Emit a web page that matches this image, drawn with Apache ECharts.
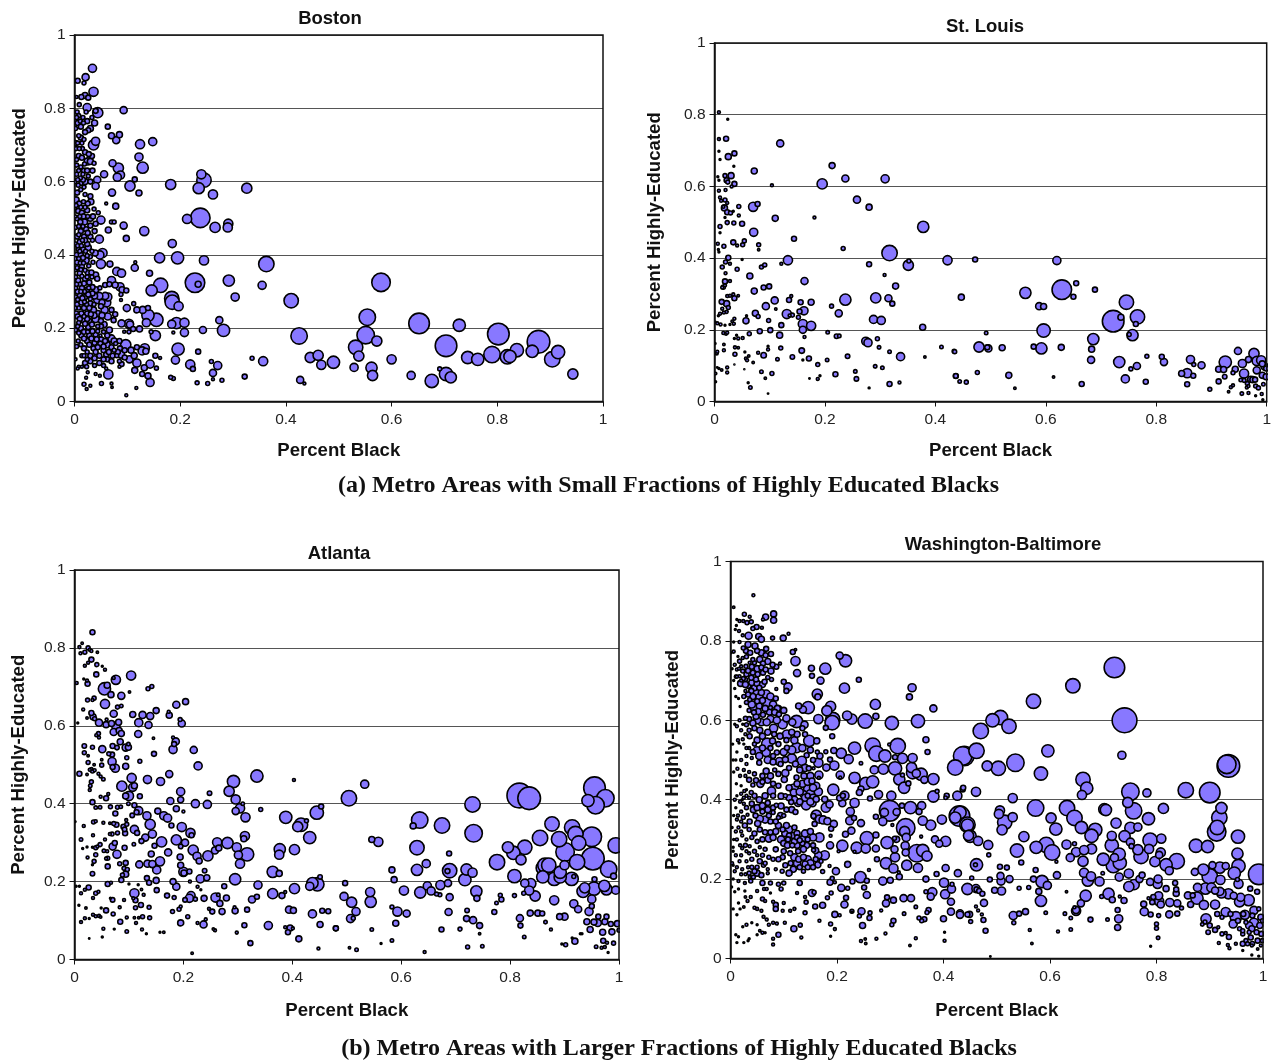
<!DOCTYPE html>
<html><head><meta charset="utf-8">
<script src="https://cdn.jsdelivr.net/npm/echarts@6/dist/echarts.min.js"></script>
<style>html,body{margin:0;padding:0;background:#fff}#c{width:1274px;height:1061px}</style>
</head><body><div id="c"></div>
<script>
// each point: [percent black, percent highly educated, bubble weight]
const bostonPoints = [
[.034,.909,8],[.021,.885,7],[.006,.875,5],[.018,.869,4],[.036,.845,9],[.02,.835,6],[.013,.831,5],[.026,.829,5],[.004,.831,3],[.024,.802,8],[.009,.81,4],[.044,.788,10],[.04,.793,5],[.093,.795,7],[.022,.79,4],[.005,.79,4],[.008,.78,4],[.016,.775,4],[.006,.76,5],[.012,.75,5],[.03,.745,6],[.038,.76,6],[.026,.74,5],[.02,.735,5],[.008,.725,4],[.012,.72,5],[.002,.705,5],[.014,.705,4],[.04,.71,8],[.036,.7,10],[.015,.69,4],[.003,.69,4],[.063,.75,5],[.07,.725,6],[.085,.728,6],[.079,.713,7],[.124,.702,9],[.148,.709,8],[.122,.667,8],[.129,.638,11],[.033,.67,5],[.008,.67,5],[.014,.665,5],[.03,.655,6],[.025,.655,7],[.037,.65,4],[.072,.65,7],[.083,.637,10],[.087,.618,8],[.081,.612,8],[.056,.62,7],[.018,.63,5],[.008,.63,4],[.004,.645,4],[.026,.615,4],[.03,.6,5],[.043,.605,7],[.04,.588,7],[.02,.6,6],[.012,.595,4],[.105,.588,10],[.114,.606,5],[.122,.569,6],[.071,.57,7],[.012,.578,4],[.005,.57,5],[.02,.565,4],[.03,.56,5],[.031,.545,6],[.003,.55,6],[.009,.54,5],[.02,.53,4],[.037,.525,4],[.06,.54,3],[.078,.533,6],[.007,.52,5],[.014,.515,5],[.024,.522,5],[.045,.515,4],[.05,.495,8],[.07,.49,4],[.075,.49,4],[.093,.48,7],[.03,.5,6],[.019,.49,6],[.04,.485,5],[.005,.5,5],[.011,.49,5],[.002,.475,4],[.03,.48,5],[.022,.47,5],[.038,.465,5],[.064,.468,6],[.098,.445,6],[.012,.465,5],[.005,.45,5],[.018,.45,5],[.03,.45,5],[.047,.443,8],[.01,.435,5],[.024,.43,5],[.002,.43,4],[.016,.415,5],[.026,.42,6],[.033,.41,4],[.039,.405,6],[.053,.405,9],[.048,.4,8],[.007,.415,4],[.004,.4,5],[.012,.4,5],[.022,.385,6],[.03,.395,4],[.05,.375,9],[.067,.375,6],[.115,.38,3],[.114,.365,7],[.142,.35,6],[.08,.355,8],[.089,.35,8],[.005,.38,5],[.014,.37,5],[.002,.36,4],[.02,.358,4],[.01,.35,5],[.04,.345,6],[.043,.335,5],[.07,.33,8],[.02,.335,5],[.007,.33,5],[.028,.325,5],[.058,.318,5],[.066,.32,5],[.077,.318,6],[.086,.313,8],[.048,.31,4],[.04,.305,6],[.014,.31,5],[.002,.31,4],[.024,.305,5],[.09,.305,6],[.098,.303,5],[.088,.292,4],[.01,.29,5],[.02,.285,5],[.03,.28,4],[.058,.288,7],[.063,.285,8],[.044,.278,8],[.06,.27,9],[.088,.277,3],[.037,.265,4],[.05,.26,5],[.023,.265,4],[.005,.265,5],[.013,.27,5],[.112,.267,4],[.099,.255,7],[.118,.25,6],[.129,.25,7],[.139,.255,5],[.057,.25,7],[.07,.25,5],[.077,.238,5],[.044,.24,6],[.024,.24,5],[.013,.24,5],[.003,.24,5],[.063,.232,7],[.074,.222,5],[.04,.225,7],[.05,.22,5],[.028,.22,5],[.016,.222,5],[.008,.215,4],[.089,.213,7],[.103,.212,9],[.105,.21,7],[.044,.205,4],[.026,.203,5],[.012,.2,5],[.002,.195,4],[.066,.195,6],[.103,.19,4],[.094,.19,3],[.111,.198,5],[.123,.198,6],[.145,.19,4],[.187,.188,3],[.04,.183,5],[.049,.18,3],[.028,.18,5],[.013,.18,5],[.062,.18,5],[.07,.172,7],[.007,.165,4],[.024,.165,5],[.038,.16,5],[.049,.158,5],[.062,.155,6],[.078,.158,4],[.097,.155,10],[.118,.148,5],[.133,.145,9],[.128,.138,8],[.135,.137,6],[.107,.14,6],[.075,.14,4],[.055,.14,5],[.036,.145,5],[.018,.145,5],[.004,.15,4],[.088,.128,7],[.113,.125,6],[.104,.115,7],[.118,.105,8],[.072,.125,5],[.06,.128,5],[.047,.125,5],[.03,.125,5],[.014,.125,4],[.002,.115,3],[.085,.11,4],[.08,.125,4],[.062,.115,5],[.047,.105,5],[.03,.11,5],[.02,.105,5],[.014,.095,3],[.008,.095,3],[.089,.102,5],[.085,.095,3],[.055,.098,4],[.038,.098,4],[.023,.095,4],
[.24,.62,9],[.245,.604,14],[.235,.582,11],[.262,.565,9],[.326,.582,10],[.182,.592,10],[.238,.501,19],[.213,.498,9],[.266,.475,10],[.291,.485,9],[.29,.475,9],[.132,.465,9],[.185,.431,8],[.195,.392,12],[.161,.392,10],[.245,.385,9],[.363,.375,15],[.228,.324,19],[.234,.32,6],[.292,.33,11],[.355,.317,8],[.304,.285,8],[.41,.275,14],[.425,.179,16],[.163,.317,14],[.146,.303,11],[.184,.281,14],[.185,.271,14],[.197,.26,9],[.139,.235,12],[.155,.223,13],[.136,.215,8],[.208,.215,9],[.193,.214,11],[.184,.211,8],[.208,.188,8],[.274,.222,7],[.282,.194,12],[.243,.195,7],[.153,.18,10],[.196,.143,12],[.191,.113,8],[.219,.101,9],[.224,.089,5],[.234,.136,5],[.271,.098,8],[.259,.109,4],[.262,.078,7],[.336,.118,4],[.357,.11,9],[.322,.068,5],[.427,.059,7],[.435,.049,3],[.279,.058,4],[.252,.049,4],[.232,.051,4],[.262,.061,3],[.187,.063,4],[.182,.066,4],[.143,.052,8],[.139,.07,6],[.128,.075,5],[.114,.085,6],[.143,.102,8],[.132,.092,6],[.155,.091,4],[.153,.125,5],[.162,.119,3],[.117,.037,3],[.098,.017,3],[.064,.074,9],[.051,.049,4],[.07,.049,3],[.071,.039,2.5],[.023,.034,3],[.018,.047,4],[.03,.043,3],[.025,.08,3],[.022,.065,3],[.04,.075,3],[.048,.07,3],[.06,.09,3],[.006,.09,3],
[.58,.325,18],[.554,.23,16],[.551,.181,17],[.572,.165,10],[.532,.148,14],[.538,.124,10],[.6,.115,9],[.529,.093,8],[.562,.092,11],[.564,.071,10],[.637,.071,8],[.676,.056,13],[.652,.213,20],[.703,.152,21],[.691,.089,4],[.703,.075,13],[.712,.066,11],[.728,.208,12],[.744,.12,12],[.763,.115,12],[.79,.128,16],[.802,.184,21],[.819,.122,14],[.824,.123,12],[.837,.14,13],[.866,.137,12],[.878,.163,22],[.915,.135,13],[.904,.115,15],[.943,.075,10],[.49,.107,12],[.446,.12,10],[.461,.126,10],[.467,.1,9],
[.004,.62,4],[.011,.61,4],[.016,.605,5],[.001,.6,4],[.007,.59,4],[.018,.585,4],[.003,.535,4],[.012,.53,4],[.017,.545,4],[.025,.54,5],[.01,.505,4],[.017,.505,5],[.025,.505,4],[.035,.505,5],[.002,.505,3],[.008,.478,4],[.016,.478,4],[.025,.46,5],[.034,.44,4],[.008,.455,4],[.015,.44,4],[.02,.44,5],[.006,.425,4],[.013,.425,4],[.021,.41,4],[.01,.41,4],[.002,.39,4],[.008,.39,4],[.016,.392,5],[.024,.398,4],[.035,.38,4],[.011,.378,4],[.017,.378,4],[.027,.37,4],[.005,.365,4],[.012,.36,4],[.025,.352,5],[.032,.352,5],[.002,.34,4],[.014,.342,4],[.024,.34,4],[.033,.34,4],[.01,.32,4],[.018,.322,5],[.004,.32,4],[.034,.312,5],[.027,.31,4],[.019,.3,4],[.006,.3,5],[.012,.3,4],[.034,.295,5],[.026,.292,5],[.002,.285,4],[.015,.282,5],[.006,.278,4],[.038,.288,6],[.047,.288,7],[.052,.27,6],[.03,.268,5],[.019,.272,4],[.008,.255,4],[.018,.255,5],[.028,.255,5],[.036,.25,6],[.001,.255,4],[.031,.238,5],[.006,.232,5],[.018,.232,4],[.037,.235,6],[.052,.235,6],[.024,.225,5],[.01,.225,5],[.033,.21,5],[.02,.212,5],[.006,.205,4],[.05,.205,5],[.056,.21,6],[.018,.19,5],[.034,.192,5],[.008,.187,4],[.025,.19,4],[.044,.192,4],[.055,.19,4],[.018,.172,5],[.032,.172,5],[.042,.17,5],[.05,.168,6],[.058,.165,5],[.075,.165,6],[.085,.165,5],[.012,.155,4],[.028,.155,5],[.044,.148,5],[.055,.15,5],[.07,.148,5],[.086,.145,5],[.095,.14,5],[.024,.135,4],[.04,.135,5],[.065,.135,5],[.082,.135,5],[.018,.125,4],[.038,.118,5],[.055,.115,5],[.07,.11,5],[.095,.12,5],[.024,.115,4],
[.004,.775,4],[.011,.765,4],[.002,.745,4],[.017,.76,4],[.024,.765,5],[.033,.775,4],[.018,.715,4],[.006,.705,4],[.009,.69,4],[.02,.68,5],[.027,.675,5],[.004,.66,4],[.019,.648,4],[.012,.64,4],[.024,.63,5],[.034,.63,5],[.016,.62,4],[.006,.605,4]
];
const stLouisPoints = [
[.008,.807,3],[.024,.787,2],[.008,.732,3],[.021,.733,5],[.119,.72,7],[.036,.692,5],[.025,.683,6],[.008,.698,2],[.01,.675,2],[.035,.656,2],[.072,.643,6],[.213,.658,6],[.237,.622,7],[.309,.621,8],[.195,.607,10],[.104,.603,3],[.03,.63,6],[.019,.63,4],[.022,.617,5],[.024,.612,4],[.036,.607,5],[.031,.6,3],[.006,.627,2],[.008,.617,2],[.008,.588,3],[.02,.59,3],[.01,.569,3],[.019,.562,4],[.023,.554,3],[.012,.56,3],[.258,.563,7],[.28,.542,6],[.044,.544,4],[.07,.543,9],[.078,.551,5],[.016,.543,3],[.018,.54,6],[.023,.528,5],[.029,.526,4],[.034,.531,2],[.044,.519,3],[.019,.513,2],[.11,.511,6],[.181,.513,3],[.378,.487,11],[.023,.499,4],[.035,.498,4],[.05,.496,5],[.01,.488,4],[.01,.471,2],[.071,.472,8],[.144,.454,5],[.034,.444,5],[.054,.448,4],[.051,.437,4],[.041,.435,3],[.08,.437,4],[.08,.423,2.5],[.006,.44,3],[.007,.424,2],[.008,.417,2],[.017,.433,4],[.233,.427,4],[.317,.414,15],[.133,.394,9],[.121,.384,3],[.351,.38,10],[.352,.392,4],[.422,.394,9],[.28,.383,5],[.025,.401,5],[.02,.389,4],[.028,.384,3],[.014,.375,4],[.05,.396,2],[.041,.369,4],[.085,.375,4],[.091,.381,4],[.02,.358,3],[.064,.35,6],[.308,.353,3],[.163,.336,7],[.028,.336,3],[.019,.335,5],[.016,.319,4],[.019,.324,3],[.014,.318,3],[.328,.322,6],[.089,.318,5],[.099,.321,5],[.072,.308,6],[.034,.299,3],[.028,.295,3],[.043,.295,2.5],[.036,.288,5],[.023,.294,3],[.139,.294,3],[.135,.283,5],[.237,.284,11],[.292,.289,10],[.315,.288,7],[.322,.273,5],[.109,.282,7],[.093,.266,7],[.111,.258,2.5],[.175,.277,6],[.156,.277,5],[.162,.253,8],[.154,.251,5],[.212,.266,4],[.131,.244,9],[.141,.241,4],[.136,.24,3],[.152,.235,4],[.225,.246,7],[.074,.246,6],[.079,.237,4],[.057,.225,6],[.058,.239,2],[.013,.278,5],[.022,.273,6],[.025,.262,4],[.014,.259,3],[.022,.25,3],[.01,.245,3],[.017,.248,3],[.007,.239,2],[.036,.231,3],[.035,.217,3],[.032,.224,2.5],[.098,.226,4],[.121,.213,5],[.16,.216,9],[.175,.211,9],[.16,.2,7],[.163,.18,3],[.288,.229,8],[.302,.226,8],[.377,.207,6],[.205,.193,3.5],[.221,.182,4.5],[.226,.183,3.5],[.101,.199,5],[.082,.196,5],[.118,.185,6],[.063,.189,4],[.001,.222,2],[.005,.218,3],[.011,.215,3],[.019,.213,2],[.028,.215,2],[.016,.191,3],[.021,.189,3],[.023,.192,3],[.04,.185,2],[.036,.176,2],[.043,.176,3],[.051,.177,3],[.274,.168,8],[.278,.164,8],[.295,.175,4],[.298,.151,3.5],[.317,.139,3.5],[.337,.125,8],[.241,.126,4.5],[.381,.124,2.5],[.411,.152,3.5],[.434,.14,4],[.158,.142,5.5],[.12,.149,4],[.097,.154,2],[.097,.145,3],[.089,.129,5.5],[.079,.136,3],[.141,.124,4.5],[.114,.118,3.5],[.171,.12,5],[.16,.116,2],[.187,.103,4],[.204,.116,3.5],[.255,.084,3.5],[.257,.063,4.5],[.219,.076,5],[.187,.063,3],[.191,.072,2],[.291,.098,3.5],[.304,.094,3.5],[.317,.049,5],[.335,.053,3],[.28,.038,2],[.437,.071,4.5],[.104,.078,4],[.085,.083,3.5],[.092,.065,2.5],[.07,.109,2.5],[.065,.039,3.5],[.061,.052,2],[.097,.022,1.5],[.172,.064,1.5],[.001,.162,2],[.004,.134,3],[.005,.139,3],[.017,.143,3],[.017,.159,2.5],[.037,.151,3],[.043,.15,2.5],[.037,.132,4],[.055,.138,2],[.057,.12,3],[.059,.115,3],[.062,.127,2.5],[.008,.092,2],[.013,.088,2.5],[.023,.095,3],[.023,.081,3],[.005,.095,1.5],[.002,.078,2.5],[.002,.055,2],[.036,.103,1],[.054,.09,1],
[.472,.396,5],[.62,.393,8],[.629,.312,19],[.655,.33,5],[.65,.292,5],[.689,.312,5],[.563,.303,11],[.447,.291,6],[.588,.266,7],[.596,.265,6],[.596,.198,13],[.492,.191,3.5],[.746,.277,14],[.766,.236,14],[.722,.224,21],[.736,.235,6],[.763,.216,5],[.757,.185,11],[.751,.187,4],[.686,.174,11],[.683,.146,6],[.682,.116,7],[.733,.11,11],[.765,.099,7],[.754,.091,4],[.744,.063,8],[.783,.126,4],[.781,.055,5],[.665,.049,5],[.614,.068,2.5],[.628,.151,6],[.592,.148,11],[.578,.153,5],[.521,.15,6],[.496,.148,7],[.494,.151,5],[.479,.152,10],[.435,.139,4],[.476,.081,4],[.533,.073,6],[.544,.037,2.5],[.437,.071,5],[.444,.056,3.5],[.456,.054,4],[.81,.125,5],[.814,.11,7],[.862,.117,8],[.868,.103,4],[.882,.101,7],[.846,.078,6],[.856,.079,9],[.867,.072,5],[.856,.048,5],[.897,.034,4],[.913,.056,5],[.925,.11,12],[.913,.09,6],[.922,.089,6],[.924,.069,4.5],[.939,.045,3],[.935,.04,3],[.931,.027,2.5],[.939,.08,4],[.943,.09,6],[.948,.141,7],[.956,.106,8],[.959,.078,9],[.977,.134,10],[.967,.117,6],[.982,.113,9],[.99,.115,9],[.992,.105,6],[.996,.098,7],[.982,.087,7],[.992,.073,6],[.999,.069,6],[.953,.06,3.5],[.959,.059,4],[.971,.062,6],[.975,.061,6],[.979,.061,5],[.965,.05,4],[.964,.039,3],[.967,.043,3],[.98,.043,4],[.985,.038,4],[.994,.048,3.5],[.955,.022,3.5],[.967,.024,3],[.991,.021,3],[.98,.016,2],[.993,.005,2],[.999,.092,5]
];
const atlantaPoints = [
[.033,.84,5],[.014,.812,2.5],[.009,.802,3],[.025,.8,4],[.028,.795,3],[.042,.789,2.5],[.019,.789,4],[.011,.786,3],[.031,.792,3],[.031,.77,5],[.025,.762,3],[.019,.754,3],[.041,.757,4],[.051,.753,2],[.056,.744,3],[.04,.732,5],[.104,.729,9],[.076,.718,9],[.072,.723,3],[.017,.72,2],[.023,.716,3],[.024,.708,5],[.004,.71,3],[.055,.695,12],[.06,.704,6],[.135,.695,4],[.142,.701,4],[.101,.687,2.5],[.067,.68,6],[.086,.677,7],[.036,.671,4],[.024,.666,4],[.033,.666,3],[.056,.656,9],[.204,.662,6],[.187,.654,7],[.079,.648,4],[.086,.651,3.5],[.016,.642,3],[.072,.631,7],[.107,.629,6],[.125,.628,7],[.139,.625,7],[.15,.639,6],[.173,.636,3],[.174,.627,6],[.031,.633,5],[.023,.62,2.5],[.034,.623,6],[.037,.618,4],[.045,.608,7],[.059,.616,3],[.006,.607,2],[.118,.608,8],[.194,.616,4],[.197,.606,7],[.136,.602,7],[.058,.603,6],[.068,.606,6],[.076,.599,8],[.081,.609,6],[.082,.588,6],[.072,.584,7],[.086,.58,6],[.117,.579,7],[.04,.576,3],[.044,.58,4],[.045,.57,3],[.145,.568,2.5],[.181,.57,3],[.186,.56,7],[.183,.553,5],[.084,.559,6],[.099,.553,3.5],[.099,.545,6],[.094,.544,7],[.018,.548,4.5],[.033,.545,4],[.051,.54,7],[.07,.548,5],[.078,.544,4.5],[.018,.531,4],[.025,.523,2.5],[.181,.539,8],[.219,.538,7],[.146,.528,5],[.063,.528,4],[.069,.526,5],[.096,.518,4],[.12,.509,4],[.025,.506,4],[.05,.513,2.5],[.069,.508,8],[.05,.499,4],[.036,.5,2.5],[.227,.497,8],[.094,.496,6],[.07,.494,5],[.075,.491,8],[.031,.489,3],[.037,.486,3],[.028,.487,3],[.033,.484,4],[.009,.477,5],[.023,.475,2.5],[.044,.477,3],[.048,.47,3],[.053,.463,3.5],[.174,.476,7],[.105,.466,9],[.134,.462,8],[.158,.457,8],[.292,.457,12],[.335,.471,12],[.403,.461,3],[.031,.456,4],[.029,.446,3.5],[.028,.435,3],[.087,.445,10],[.11,.446,6],[.107,.442,8],[.195,.431,8],[.248,.427,4.5],[.284,.432,10],[.048,.418,3],[.062,.425,3],[.058,.414,5],[.094,.42,6],[.1,.42,9],[.12,.419,5],[.195,.41,6],[.176,.407,7],[.296,.411,9],[.033,.404,5],[.222,.4,8],[.244,.398,8],[.099,.4,3.5],[.11,.396,5],[.309,.4,3.5],[.039,.39,3.5],[.047,.391,3.5],[.066,.392,4],[.079,.391,4],[.085,.392,3.5],[.187,.387,6],[.2,.38,3],[.118,.382,8],[.114,.378,5],[.153,.381,6],[.304,.388,9],[.296,.381,7],[.342,.385,4],[.075,.375,5],[.106,.37,4.5],[.133,.369,8],[.164,.369,8],[.171,.363,8],[.314,.365,9],[.388,.365,12],[.445,.377,13],[.453,.393,5],[.426,.356,4],[.41,.341,10],[.416,.346,13],[.035,.353,4],[.039,.355,3],[.001,.354,2],[.053,.351,3],[.065,.35,2.5],[.072,.349,4],[.077,.346,5],[.095,.358,3],[.096,.347,4],[.09,.341,5],[.017,.343,3],[.178,.344,5],[.139,.347,10],[.11,.334,8],[.197,.34,9],[.092,.334,4.5],[.093,.324,5],[.065,.322,3],[.069,.322,4],[.079,.325,4],[.115,.325,5],[.034,.319,3],[.143,.322,8],[.213,.325,9],[.215,.319,5],[.313,.317,9],[.432,.313,12],[.13,.313,7],[.123,.304,5],[.012,.308,3.5],[.187,.307,10],[.16,.302,10],[.311,.31,6],[.262,.301,9],[.281,.299,11],[.109,.296,3.5],[.074,.299,5],[.203,.3,7],[.056,.308,3],[.047,.295,4],[.039,.287,4],[.042,.29,3],[.092,.287,5],[.07,.29,7],[.147,.292,5],[.195,.29,4.5],[.218,.281,10],[.258,.28,7],[.265,.286,6],[.298,.288,9],[.377,.283,11],[.404,.282,10],[.033,.288,2],[.015,.285,2],[.023,.289,2],[.172,.275,7],[.06,.278,3],[.054,.279,3.5],[.078,.27,8],[.141,.271,6],[.039,.269,4],[.225,.265,8],[.245,.266,10],[.317,.27,13],[.301,.268,8],[.376,.269,9],[.194,.263,6],[.229,.253,6],[.024,.262,3],[.061,.26,4],[.058,.259,3],[.036,.252,4],[.033,.243,2],[.157,.252,9],[.304,.246,9],[.083,.246,4],[.094,.248,5],[.119,.244,7],[.134,.246,7],[.143,.245,7],[.061,.239,5],[.195,.242,6],[.151,.23,8],[.091,.234,4],[.097,.231,4],[.239,.228,4.5],[.211,.226,5],[.2,.225,9],[.033,.22,4.5],[.094,.219,6],[.088,.217,4],[.201,.222,6],[.364,.225,11],[.376,.221,6],[.295,.206,11],[.243,.21,6],[.231,.207,8],[.086,.204,5],[.133,.209,5],[.451,.212,4.5],[.437,.196,11],[.446,.193,13],[.432,.188,8],[.15,.203,6],[.137,.197,5],[.181,.2,6],[.212,.2,3],[.061,.194,5],[.067,.197,3],[.1,.194,2],[.117,.192,2],[.187,.187,7],[.337,.191,8],[.404,.182,10],[.226,.187,3],[.232,.179,2],[.11,.17,9],[.151,.178,5],[.123,.18,2.5],[.009,.188,2],[.003,.188,2],[.026,.185,5],[.019,.179,3],[.012,.17,3],[.039,.17,4],[.044,.174,3],[.034,.158,3],[.07,.153,4.5],[.091,.153,3],[.127,.166,3],[.17,.164,5],[.183,.159,4],[.214,.164,8],[.211,.157,8],[.203,.153,4.5],[.222,.155,4],[.238,.157,6],[.264,.166,3.5],[.259,.159,9],[.279,.158,6],[.275,.188,5],[.364,.169,10],[.381,.164,6],[.387,.173,3],[.335,.161,5],[.326,.154,7],[.108,.157,3],[.112,.152,5],[.066,.157,2],[.008,.139,2],[.021,.132,2.5],[.049,.132,2],[.058,.126,5],[.122,.14,5],[.112,.133,4],[.137,.134,4],[.083,.134,3],[.267,.144,6],[.195,.136,3],[.294,.134,3],[.271,.123,6],[.253,.123,5],[.247,.13,3],[.18,.123,4],[.192,.129,4],[.295,.125,6],[.317,.128,5],[.394,.128,7],[.402,.126,6],[.437,.117,8],[.455,.125,5],[.466,.124,5],[.071,.117,4],[.208,.11,4],[.241,.103,3],[.034,.115,3],[.039,.111,3],[.045,.112,3],[.048,.109,2.5],[.084,.097,5],[.096,.108,3],[.11,.107,2.5],[.118,.107,2.5],[.125,.11,4],[.138,.107,4],[.195,.094,6],[.019,.106,3],[.027,.105,2],[.012,.096,3],[.113,.094,3],[.226,.094,3],[.237,.09,7],[.312,.088,5],[.356,.087,8],[.387,.083,3],[.396,.081,6],[.401,.08,3],[.451,.09,6],[.48,.08,5],[.392,.07,5],[.053,.079,3],[.073,.078,2],[.124,.077,3],[.132,.066,2],[.255,.078,2.5],[.258,.075,3],[.096,.072,3.5],[.157,.07,2],[.164,.07,2.5],[.298,.069,3],[.412,.053,6],[.323,.042,5],[.448,.028,3],[.216,.016,2.5],[.027,.054,1.5],[.051,.058,2],
[.533,.45,8],[.504,.414,15],[.731,.398,15],[.817,.421,24],[.835,.414,22],[.955,.441,21],[.975,.414,17],[.943,.408,12],[.957,.396,17],[.634,.358,16],[.622,.343,6],[.675,.344,15],[.733,.324,17],[.546,.308,6],[.558,.302,9],[.629,.287,14],[.877,.348,14],[.855,.312,15],[.914,.339,15],[.92,.322,15],[.89,.309,15],[.95,.315,19],[.926,.299,14],[.994,.293,15],[.901,.276,18],[.796,.288,11],[.827,.288,14],[.806,.274,13],[.82,.256,10],[.776,.25,15],[.923,.25,15],[.952,.259,22],[.646,.246,8],[.688,.272,5],[.689,.228,14],[.685,.227,5],[.72,.231,11],[.731,.223,9],[.583,.23,6],[.587,.205,6],[.497,.196,5],[.629,.23,11],[.717,.205,12],[.686,.196,7],[.648,.189,8],[.672,.191,9],[.671,.166,4],[.665,.168,4],[.655,.176,8],[.635,.172,11],[.605,.177,9],[.543,.173,9],[.544,.148,11],[.495,.162,8],[.509,.147,10],[.517,.123,8],[.507,.105,8],[.512,.106,4],[.583,.135,4],[.593,.123,9],[.61,.118,7],[.59,.093,6],[.48,.08,5],[.546,.077,3.5],[.505,.03,2.5],[.518,.025,3.5],[.563,.041,2],[.583,.049,3.5],[.643,.019,3],[.674,.077,5],[.708,.078,4],[.687,.122,7],[.721,.126,4.5],[.72,.105,6],[.732,.101,7],[.744,.087,6],[.744,.066,2.5],[.722,.032,4],[.749,.034,3.5],[.689,.16,7],[.738,.175,11],[.739,.157,6],[.771,.122,5],[.775,.145,3.5],[.782,.165,4],[.784,.154,5],[.808,.164,4],[.818,.106,7],[.819,.087,5],[.826,.058,3.5],[.808,.214,13],[.827,.196,8],[.838,.195,10],[.825,.17,4],[.835,.177,9],[.846,.163,10],[.861,.235,14],[.864,.242,14],[.871,.242,14],[.86,.212,12],[.881,.207,13],[.892,.212,12],[.913,.207,13],[.892,.224,12],[.9,.242,9],[.917,.213,4],[.881,.152,9],[.917,.143,8],[.925,.129,7],[.945,.123,8],[.837,.119,6],[.851,.119,6],[.859,.118,5],[.865,.096,3.5],[.875,.077,3],[.891,.11,6],[.9,.11,7],[.929,.066,2],[.932,.066,2],[.895,.04,2],[.902,.038,4],[.914,.055,2],[.919,.047,6],[.934,.175,12],[.954,.182,13],[.977,.18,11],[.973,.189,11],[.937,.184,10],[.955,.206,5],[.99,.214,6],[.981,.232,16],[.994,.178,8],[.95,.155,8],[.95,.137,5],[.962,.11,5],[.977,.11,5],[.941,.097,6],[.954,.096,6],[.961,.094,7],[.974,.097,6],[.985,.091,5],[.997,.092,6],[.947,.077,6],[.97,.07,6],[.987,.071,6],[1,.075,4],[.971,.048,5],[.978,.043,3],[.99,.042,4],[.974,.032,3],[.968,.03,3],[.958,.033,3.5],[.98,.018,2]
];
const washingtonPoints = [
[.043,.915,3],[.006,.885,2.5],[.026,.867,4],[.036,.861,3],[.081,.868,6],[.081,.852,6],[.066,.86,6],[.061,.854,3],[.012,.854,2],[.017,.85,3],[.024,.85,3],[.031,.846,4],[.039,.848,4],[.049,.835,5],[.059,.833,3],[.042,.831,4],[.011,.839,2],[.009,.829,2],[.016,.825,3],[.109,.818,3],[.099,.807,6],[.079,.807,4],[.034,.813,7],[.053,.811,6],[.058,.804,6],[.023,.814,3],[.017,.797,3],[.006,.797,2],[.046,.787,6],[.033,.791,6],[.024,.782,4],[.067,.78,5],[.076,.767,5],[.066,.764,5],[.117,.772,5],[.122,.778,2.5],[.122,.749,9],[.178,.73,11],[.205,.763,7],[.216,.75,12],[.152,.731,6],[.153,.712,5],[.125,.719,7],[.169,.7,7],[.241,.702,5],[.214,.681,10],[.341,.682,8],[.336,.659,6],[.1,.697,5],[.108,.684,8],[.105,.674,5],[.086,.679,3],[.093,.743,3],[.086,.735,5],[.076,.724,6],[.077,.703,4],[.064,.697,5],[.07,.708,4],[.061,.743,5],[.045,.745,4],[.055,.753,6],[.042,.753,4],[.023,.757,3],[.014,.761,2],[.017,.749,4],[.029,.736,4],[.036,.745,3],[.02,.736,3],[.012,.728,3],[.023,.724,4],[.03,.716,5],[.042,.72,5],[.051,.716,5],[.061,.72,5],[.017,.711,3],[.028,.703,4],[.039,.707,5],[.048,.703,5],[.019,.693,6],[.033,.688,6],[.045,.682,6],[.054,.682,5],[.028,.674,3],[.039,.674,5],[.048,.67,7],[.054,.658,7],[.067,.666,8],[.036,.652,4],[.07,.644,10],[.054,.636,6],[.045,.63,9],[.163,.666,10],[.164,.659,6],[.272,.64,10],[.381,.63,7],[.273,.61,6],[.146,.632,12],[.128,.636,6],[.136,.627,7],[.188,.635,10],[.181,.624,10],[.192,.602,14],[.219,.612,9],[.228,.603,10],[.253,.598,14],[.303,.593,13],[.352,.598,13],[.165,.603,9],[.124,.597,12],[.116,.595,7],[.139,.589,7],[.09,.628,7],[.075,.632,4],[.073,.621,6],[.091,.615,5],[.048,.61,6],[.061,.614,5],[.044,.62,5],[.058,.595,7],[.042,.593,6],[.03,.589,4],[.075,.603,7],[.081,.58,8],[.191,.594,14],[.179,.581,5],[.191,.56,5],[.106,.564,9],[.125,.565,6],[.14,.565,5],[.148,.548,11],[.162,.548,6],[.124,.531,10],[.106,.531,5],[.069,.541,11],[.079,.548,6],[.036,.56,5],[.045,.54,4],[.023,.552,3],[.016,.543,2],[.05,.523,8],[.067,.519,8],[.054,.51,7],[.087,.519,5],[.092,.496,8],[.115,.504,9],[.103,.501,6],[.134,.498,9],[.143,.512,5],[.163,.52,4],[.168,.51,6],[.194,.524,6],[.179,.521,4],[.208,.517,10],[.233,.53,12],[.267,.536,15],[.274,.516,15],[.314,.535,15],[.298,.539,3],[.29,.51,12],[.309,.507,5],[.323,.504,10],[.342,.505,9],[.37,.52,5],[.367,.551,6],[.222,.502,9],[.245,.492,3.5],[.165,.493,9],[.187,.501,5],[.195,.486,9],[.18,.481,7],[.27,.475,8],[.287,.477,10],[.309,.479,13],[.34,.481,10],[.342,.468,12],[.358,.464,12],[.349,.466,8],[.381,.452,11],[.364,.45,7],[.422,.481,15],[.436,.51,18],[.206,.462,8],[.206,.456,3],[.166,.462,8],[.156,.479,3],[.147,.479,5],[.138,.46,6],[.103,.467,7],[.083,.475,4],[.094,.49,5],[.067,.472,6],[.054,.493,5],[.101,.451,6],[.124,.456,5],[.233,.455,11],[.254,.441,12],[.267,.445,12],[.245,.427,6],[.242,.418,6],[.323,.462,4],[.317,.451,11],[.326,.43,11],[.334,.441,5],[.153,.447,6],[.166,.455,3],[.161,.435,7],[.119,.428,9],[.119,.418,7],[.145,.427,8],[.193,.425,11],[.214,.41,9],[.205,.404,6],[.233,.392,9],[.262,.403,5],[.278,.413,8],[.302,.41,9],[.381,.408,11],[.404,.405,3.5],[.426,.41,9],[.436,.426,5],[.388,.421,4],[.077,.422,8],[.056,.44,7],[.07,.449,6],[.048,.449,5],[.042,.437,4],[.026,.422,3],[.039,.418,4],[.02,.415,3],[.054,.4,6],[.07,.392,5],[.095,.409,6],[.103,.41,4],[.095,.384,6],[.086,.386,4],[.114,.394,5],[.122,.369,5],[.127,.392,7],[.142,.386,9],[.154,.391,7],[.137,.414,7],[.161,.401,6],[.177,.401,6],[.145,.41,5],[.186,.388,7],[.179,.38,9],[.21,.391,7],[.211,.41,5],[.225,.37,8],[.224,.347,8],[.227,.322,7],[.216,.313,6],[.232,.354,5],[.245,.341,7],[.161,.361,10],[.167,.351,8],[.174,.349,8],[.182,.346,7],[.158,.339,5],[.156,.359,5],[.194,.339,7],[.189,.327,5],[.286,.345,8],[.304,.336,3],[.299,.372,20],[.289,.368,8],[.273,.357,5],[.312,.369,7],[.322,.385,5],[.338,.38,12],[.354,.37,6],[.359,.385,8],[.361,.347,9],[.376,.336,10],[.397,.35,9],[.406,.41,5],[.431,.368,12],[.422,.355,11],[.43,.359,20],[.445,.337,15],[.447,.31,10],[.329,.329,18],[.327,.32,10],[.33,.305,8],[.328,.284,8],[.329,.267,7],[.331,.235,10],[.352,.228,9],[.358,.307,3],[.384,.3,7],[.392,.289,7],[.404,.295,10],[.35,.265,17],[.361,.272,12],[.369,.258,10],[.273,.311,6],[.256,.303,13],[.254,.277,9],[.273,.277,7],[.237,.279,11],[.21,.284,11],[.167,.305,9],[.187,.285,7],[.188,.309,3],[.203,.27,3],[.233,.269,3],[.294,.292,12],[.312,.3,6],[.308,.303,4],[.308,.275,7],[.309,.255,9],[.292,.24,11],[.306,.227,9],[.275,.25,5],[.22,.237,6],[.244,.205,11],[.26,.223,3],[.316,.217,3],[.317,.206,6],[.3,.197,6],[.286,.195,8],[.367,.2,6],[.387,.213,5],[.404,.228,7],[.427,.215,7],[.401,.191,9],[.416,.187,4],[.415,.175,8],[.445,.175,11],[.403,.162,9],[.379,.167,9],[.367,.168,4],[.376,.156,7],[.414,.143,7],[.369,.116,4],[.372,.122,5],[.364,.099,5],[.359,.095,4],[.354,.102,4],[.348,.13,3.5],[.4,.1,6],[.414,.118,7],[.431,.114,7],[.445,.111,5],[.326,.113,3.5],[.325,.152,7],[.339,.152,7],[.306,.147,6],[.292,.139,7],[.294,.154,5],[.283,.121,3],[.306,.095,5],[.303,.085,4],[.248,.083,6],[.246,.119,7],[.262,.115,4],[.261,.102,5],[.228,.119,4],[.242,.107,4],[.256,.16,7],[.251,.179,5],[.256,.196,5],[.229,.194,5],[.22,.177,4],[.208,.178,7],[.196,.192,3],[.187,.192,6],[.191,.202,4],[.173,.219,4],[.164,.236,6],[.177,.26,9],[.156,.273,4],[.186,.233,3],[.198,.22,7],[.217,.153,5],[.214,.136,7],[.228,.117,2],[.196,.111,6],[.205,.109,3],[.182,.153,4],[.189,.165,4],[.153,.165,7],[.157,.167,4],[.173,.134,6],[.159,.131,5],[.142,.142,4],[.14,.155,3],[.14,.115,4],[.167,.095,3],[.188,.087,4],[.196,.074,3],[.131,.084,4],[.119,.075,6],[.188,.056,2],[.133,.053,3],[.245,.044,3],[.253,.049,2.5],[.254,.038,2.5],[.274,.05,3],[.291,.063,3],[.348,.051,3],[.337,.033,2.5],[.402,.045,3],[.402,.066,2],
[.135,.3,7],[.125,.305,5],[.118,.31,6],[.11,.31,5],[.102,.315,6],[.098,.325,5],[.09,.335,6],[.085,.32,6],[.094,.36,6],[.09,.355,4],[.08,.368,4],[.072,.36,5],[.065,.35,7],[.06,.37,5],[.055,.352,7],[.051,.34,6],[.047,.36,5],[.043,.375,6],[.05,.38,6],[.04,.39,5],[.03,.38,4],[.025,.39,3],[.018,.395,3],[.032,.362,3],[.024,.355,4],[.036,.345,5],[.027,.335,5],[.02,.345,3],[.012,.35,3],[.015,.33,3],[.035,.325,4],[.045,.315,5],[.055,.325,5],[.065,.318,5],[.075,.318,5],[.072,.302,7],[.08,.305,6],[.06,.3,5],[.05,.295,4],[.04,.305,4],[.03,.3,3],[.022,.31,3],[.012,.3,3],[.006,.3,2],[.018,.285,3],[.022,.278,3],[.028,.285,4],[.036,.283,3],[.045,.27,4],[.055,.28,3],[.065,.275,4],[.05,.26,3],[.06,.26,4],[.072,.255,4],[.085,.275,5],[.1,.29,6],[.107,.285,6],[.116,.285,5],[.125,.285,6],[.135,.29,5],[.143,.285,6],[.137,.275,6],[.127,.27,5],[.112,.265,5],[.1,.27,5],[.098,.255,5],[.09,.25,5],[.08,.25,4],[.12,.255,7],[.128,.25,6],[.137,.255,6],[.145,.25,7],[.15,.24,7],[.14,.238,6],[.125,.24,7],[.113,.24,5],[.103,.235,5],[.118,.225,6],[.13,.23,5],[.137,.22,4],[.11,.215,6],[.097,.22,4],[.085,.225,3],[.07,.225,3],[.062,.235,4],[.05,.23,4],[.045,.22,5],[.05,.215,6],[.058,.21,5],[.043,.205,4],[.028,.212,3],[.02,.212,3],[.012,.23,3],[.003,.24,3],[.017,.245,3],[.03,.245,3],[.033,.23,3],[.008,.22,3],[.005,.2,2],[.015,.195,3],[.027,.19,3],[.036,.205,3],[.038,.195,4],[.06,.19,5],[.075,.19,4],[.09,.187,4],[.095,.175,4],[.1,.19,4],[.13,.19,5],[.063,.175,3],[.068,.175,3],[.05,.17,3],[.015,.175,2],[.027,.17,2],[.008,.168,2],
[.125,.165,3],[.075,.165,2],[.065,.145,3],[.06,.15,4],[.038,.155,3],[.028,.155,2.5],[.032,.145,3],[.015,.14,2],[.025,.13,2.5],[.018,.125,2],[.045,.128,3],[.05,.125,3],[.058,.12,3],[.085,.135,5],[.085,.125,5],[.08,.143,3],[.098,.12,3],[.1,.14,3],[.112,.12,3],[.12,.125,3],[.062,.105,3],[.068,.098,3],[.072,.085,3],[.08,.09,3],[.087,.088,3],[.102,.09,3],[.05,.085,2],[.04,.09,2],[.03,.085,3],[.023,.08,2],[.055,.07,2.5],[.06,.065,3],[.065,.065,2],[.08,.05,3],[.09,.06,5],[.01,.06,2],[.015,.055,2],[.012,.04,2],[.025,.04,2],[.033,.045,2],[.035,.05,2],[.08,.035,3],[.05,.06,2],[.005,.125,2],[.012,.11,2],[.002,.18,2],[.005,.28,2],[.003,.33,2],[.004,.54,2],[.012,.52,2],[.02,.5,3],[.03,.49,3],[.028,.46,3],[.013,.478,3],[.018,.46,3],[.011,.44,2],[.02,.435,2],[.03,.425,2],[.006,.47,2],[.008,.4,3],[.01,.38,2],[.012,.41,2],[.008,.59,2],[.012,.585,3],[.017,.6,3],[.023,.59,2],[.018,.635,2],[.01,.66,2],[.015,.655,2],[.008,.68,2],[.006,.7,2],[.01,.71,3],[.003,.73,2],[.008,.74,3],[.001,.77,2],[.006,.773,3],
[.721,.733,20],[.643,.687,14],[.569,.648,14],[.74,.6,24],[.507,.607,14],[.492,.6,13],[.523,.585,14],[.47,.573,15],[.596,.523,12],[.462,.523,15],[.439,.51,19],[.535,.493,17],[.503,.479,14],[.482,.485,10],[.583,.466,13],[.735,.512,8],[.935,.485,22],[.932,.489,18],[.662,.451,14],[.669,.429,12],[.66,.412,9],[.461,.42,9],[.53,.404,9],[.437,.43,5],[.751,.42,17],[.782,.417,8],[.855,.424,15],[.9,.418,20],[.746,.393,10],[.757,.372,16],[.573,.379,16],[.632,.379,15],[.646,.354,15],[.602,.354,10],[.611,.326,12],[.659,.33,12],[.702,.376,11],[.705,.374,11],[.724,.341,10],[.751,.329,11],[.765,.331,8],[.685,.324,13],[.678,.309,13],[.785,.352,12],[.813,.378,10],[.922,.379,11],[.918,.355,15],[.914,.33,14],[.913,.319,18],[.953,.307,13],[.506,.373,9],[.504,.364,9],[.53,.356,9],[.515,.343,14],[.51,.324,10],[.445,.336,12],[.45,.308,12],[.465,.296,9],[.484,.286,9],[.485,.261,4],[.551,.307,10],[.538,.272,13],[.546,.242,5],[.574,.28,12],[.593,.286,15],[.604,.267,15],[.612,.244,3],[.631,.287,9],[.646,.289,4],[.638,.254,8],[.649,.268,9],[.664,.273,9],[.678,.276,10],[.662,.245,10],[.7,.25,12],[.721,.254,8],[.73,.263,12],[.719,.234,14],[.731,.241,13],[.716,.309,9],[.716,.285,13],[.74,.308,11],[.751,.293,8],[.753,.283,5],[.765,.274,10],[.771,.257,14],[.786,.276,9],[.788,.298,14],[.809,.302,9],[.808,.267,9],[.805,.261,7],[.797,.244,10],[.818,.236,12],[.824,.221,8],[.838,.245,15],[.874,.284,13],[.896,.282,12],[.952,.264,11],[.954,.233,13],[.946,.215,12],[.93,.233,7],[.919,.229,11],[.905,.235,7],[.888,.224,11],[.872,.218,7],[.992,.212,20],[.9,.207,15],[.92,.198,9],[.954,.188,9],[.952,.199,4],[.462,.236,12],[.46,.236,4],[.506,.231,5],[.519,.229,5],[.507,.208,7],[.508,.195,8],[.524,.2,7],[.573,.223,5],[.569,.2,6],[.585,.194,12],[.595,.184,8],[.613,.21,7],[.487,.199,5],[.453,.203,4],[.542,.177,4],[.56,.179,4],[.496,.172,6],[.509,.17,8],[.461,.176,8],[.462,.174,5],[.467,.17,5],[.473,.163,5],[.579,.169,6],[.583,.145,11],[.631,.168,2.5],[.667,.158,11],[.658,.139,7],[.649,.12,9],[.646,.129,3],[.664,.216,9],[.671,.196,11],[.677,.207,9],[.699,.215,3.5],[.693,.194,9],[.73,.205,8],[.748,.214,9],[.773,.21,6],[.768,.2,7],[.758,.186,10],[.748,.181,10],[.788,.193,7],[.803,.2,8],[.802,.188,9],[.818,.176,6],[.835,.19,5],[.837,.174,5],[.837,.164,6],[.825,.141,8],[.839,.139,7],[.859,.159,7],[.868,.159,5],[.877,.179,8],[.892,.176,11],[.903,.179,9],[.876,.152,12],[.889,.135,9],[.91,.171,7],[.919,.169,8],[.922,.164,9],[.935,.163,10],[.91,.136,9],[.956,.143,10],[.973,.147,11],[.976,.176,5],[.989,.168,5],[.945,.158,7],[.958,.154,8],[.963,.112,5],[.71,.163,11],[.697,.156,4],[.717,.148,6],[.731,.156,3],[.739,.146,6],[.776,.137,6],[.794,.155,5],[.804,.158,8],[.805,.144,9],[.808,.136,7],[.792,.142,5],[.785,.152,3],[.864,.136,6],[.847,.127,4],[.431,.11,7],[.449,.111,6],[.461,.131,3],[.465,.121,3],[.472,.111,3],[.476,.14,7],[.475,.097,5],[.451,.093,4],[.479,.07,5],[.531,.108,8],[.542,.113,5],[.554,.118,6],[.532,.09,4],[.592,.115,3.5],[.562,.072,3],[.566,.038,2.5],[.615,.068,3],[.639,.073,3.5],[.628,.113,3.5],[.639,.102,3.5],[.649,.122,7],[.676,.098,5],[.708,.098,3.5],[.727,.122,5],[.729,.1,8],[.727,.078,6],[.804,.108,4],[.8,.087,4],[.8,.076,4],[.803,.052,3.5],[.789,.031,2],[.777,.118,8],[.789,.111,5],[.824,.111,7],[.839,.113,5],[.893,.1,10],[.886,.086,3.5],[.897,.066,4.5],[.91,.072,5],[.917,.039,3],[.488,.005,1.5],
[.914,.112,5],[.923,.104,4],[.93,.117,9],[.939,.112,5],[.949,.104,11],[.944,.087,8],[.923,.062,4],[.93,.064,3],[.936,.054,5],[.949,.037,3],[.962,.062,4],[.974,.066,4],[.983,.09,9],[.966,.11,9],[.983,.121,8],[.992,.125,4],[.974,.083,7],[.968,.091,4],[.979,.075,6],[.988,.066,5],[.997,.062,5],[.994,.083,6],[.98,.108,5],[.962,.037,5],[.968,.045,4],[.977,.053,5],[.99,.045,5],[.999,.045,4],[.996,.033,3],[.979,.033,3],[.962,.02,2],[.979,.009,2],[.992,.006,2],[.934,.034,3],[.937,.026,3],[.99,.024,2.5],[.971,.037,4],[.98,.037,4.5],[.953,.095,5],[.956,.075,4],[.962,.07,4],[.996,.104,6],[.999,.095,4],[.916,.079,3],[.9,.083,5],[.891,.092,4],
[.029,.775,5],[.037,.77,5],[.05,.775,5],[.058,.77,6],[.07,.748,6],[.079,.74,5],[.03,.76,4],[.04,.735,5],[.05,.73,6],[.058,.733,5],[.066,.728,5],[.016,.73,3],[.024,.705,4],[.033,.725,5],[.012,.71,3],[.02,.7,3],[.028,.69,6],[.04,.695,6],[.05,.693,6],[.06,.69,6],[.025,.66,4],[.033,.665,5],[.042,.66,6],[.058,.67,6],[.075,.66,7],[.085,.655,5],[.03,.645,4],[.04,.64,7],[.05,.648,5],[.06,.65,6],[.08,.64,7],[.088,.63,6],[.035,.625,4],[.052,.622,6],[.065,.63,6],[.083,.62,6],[.1,.625,6],[.105,.605,7],[.098,.59,9],[.028,.605,4],[.035,.603,5],[.05,.6,7],[.068,.595,7],[.087,.6,7],[.115,.57,6],[.135,.58,5],[.12,.55,7],[.105,.55,5],[.093,.56,6],[.082,.565,5],[.07,.57,6],[.055,.575,6],[.045,.58,5],[.035,.575,4],[.028,.565,3],[.05,.55,6],[.06,.56,6],[.09,.54,5],[.1,.52,7],[.115,.525,8],[.135,.53,7],[.15,.525,6],[.035,.53,3],[.042,.52,5],[.06,.53,6],[.075,.53,5],[.08,.51,5],[.03,.51,3],[.04,.505,3],[.07,.5,7],[.08,.495,6],[.122,.49,6],[.14,.48,7],[.155,.5,5],[.15,.46,7],[.13,.475,6],[.11,.48,5],[.09,.465,5],[.075,.46,6],[.06,.46,5],[.045,.465,4],[.035,.47,3],[.025,.475,3],[.035,.45,5],[.06,.445,5],[.08,.44,5],[.09,.435,5],[.11,.43,6],[.125,.44,6],[.135,.44,7],[.145,.445,7],[.155,.43,7],[.165,.42,8],[.13,.42,7],[.14,.405,7],[.15,.415,8],[.155,.405,7],[.11,.405,6],[.12,.4,7],[.13,.395,6],[.15,.395,7],[.065,.41,6],[.08,.41,5],[.045,.41,5],[.035,.405,3],[.03,.41,3],[.025,.405,3],[.06,.385,6],[.07,.375,6],[.08,.38,5],[.105,.375,5],[.115,.375,6],[.1,.36,4],[.085,.345,5],[.075,.345,5],[.105,.335,6],[.11,.325,7],[.12,.33,5],[.125,.315,6],[.14,.315,7],[.15,.32,6],[.155,.305,7],[.145,.3,5],[.095,.3,7],[.108,.3,5],[.12,.295,6],[.13,.298,5],[.155,.285,5],[.16,.272,6],[.165,.26,7],[.16,.25,5],[.155,.23,5],[.145,.23,5],[.17,.245,4],[.035,.265,3],[.04,.25,4],[.055,.245,5],[.065,.24,4],[.07,.215,3],[.035,.215,4],[.04,.23,4],[.022,.225,3],[.005,.235,2],[.01,.26,3],[.02,.26,3],[.03,.27,3],[.005,.27,2],[.01,.32,3],[.02,.32,3],[.014,.36,3],[.02,.37,3],[.006,.36,2],[.022,.4,2],[.01,.5,2],[.005,.5,2],[.014,.55,3],[.02,.575,3],[.025,.54,2],[.03,.53,3]
];
const tickLabels = ['0','0.2','0.4','0.6','0.8','1'];
const panelTitles = ['Boston','St. Louis','Atlanta','Washington-Baltimore'];
const captions = ['(a) Metro Areas with Small Fractions of Highly Educated Blacks','(b) Metro Areas with Larger Fractions of Highly Educated Blacks'];
const panelData = [bostonPoints, stLouisPoints, atlantaPoints, washingtonPoints];

const FONT = '"Liberation Sans", Arial, sans-serif';
const SERIF = '"Liberation Serif", "Times New Roman", serif';
const boxes = [
 {l:74.5,t:35,r:603,b:401.5, titleX:330,titleY:9, nameY:441, gap:45},
 {l:714.5,t:43,r:1269,b:401.5, titleX:985,titleY:17, nameY:441, gap:50},
 {l:74.5,t:570,r:619,b:959.5, titleX:339,titleY:544, nameY:1001, gap:46},
 {l:730.5,t:561.5,r:1263,b:958.5, titleX:1003,titleY:535.5, nameY:1001, gap:48}
];
const W=1274,H=1061;
const titles=[],grids=[],xAxes=[],yAxes=[],series=[];
const tickText=v=>tickLabels[Math.round(v*5)];
boxes.forEach((b,i)=>{
  titles.push({text:panelTitles[i],left:b.titleX,top:b.titleY,padding:0,textAlign:'center',textStyle:{fontFamily:FONT,fontSize:18.5,fontWeight:'bold',color:'#111'}});
  grids.push({left:b.l,top:b.t,width:b.r-b.l,height:b.b-b.t,show:true,borderColor:'#111',borderWidth:1.5,z:6});
  xAxes.push({type:'value',gridIndex:i,min:0,max:1,interval:.2,name:'Percent Black',nameLocation:'middle',nameGap:b.nameY-b.b,
    nameTextStyle:{fontFamily:FONT,fontSize:18.6,fontWeight:'bold',color:'#111',verticalAlign:'top'},
    axisLine:{show:true,onZero:false,lineStyle:{color:'#111',width:1.5}},axisTick:{show:true,length:5,lineStyle:{color:'#111',width:1}},
    axisLabel:{fontFamily:FONT,fontSize:15.5,color:'#222',margin:10,showMaxLabel:true,hideOverlap:false,formatter:tickText},splitLine:{show:false}});
  yAxes.push({type:'value',gridIndex:i,min:0,max:1,interval:.2,name:'Percent Highly-Educated',nameLocation:'middle',nameRotate:90,nameGap:b.gap,
    nameTextStyle:{fontFamily:FONT,fontSize:18.6,fontWeight:'bold',color:'#111'},
    axisLine:{show:true,onZero:false,lineStyle:{color:'#111',width:1.5}},axisTick:{show:true,length:5,lineStyle:{color:'#111',width:1}},
    axisLabel:{fontFamily:FONT,fontSize:15.5,color:'#222',margin:9,formatter:tickText},
    splitLine:{show:true,lineStyle:{color:'#555',width:1.2}}});
  const sorted=panelData[i].slice().sort((a,b)=>b[2]-a[2]);
  series.push({type:'custom',xAxisIndex:i,yAxisIndex:i,data:sorted,clip:true,encode:{x:0,y:1},silent:true,animation:false,z:3,progressive:0,
    renderItem:(p,api)=>{const c=api.coord([api.value(0),api.value(1)]);
      return {type:'circle',shape:{cx:c[0],cy:c[1],r:Math.max(api.value(2)*1.04-.2,1)/2},style:{fill:'#8878ff',stroke:'#000',lineWidth:1.6}};}});
});
captions.forEach((t,i)=>titles.push({text:t,left:i?679:668.5,top:i?1037:474,padding:0,textAlign:'center',textStyle:{fontFamily:SERIF,fontSize:24,fontWeight:'bold',color:'#111'}}));
const chart=echarts.init(document.getElementById('c'),null,{renderer:'canvas',width:W,height:H});
chart.setOption({animation:false,backgroundColor:'#fff',title:titles,grid:grids,xAxis:xAxes,yAxis:yAxes,series:series});
</script></body></html>
